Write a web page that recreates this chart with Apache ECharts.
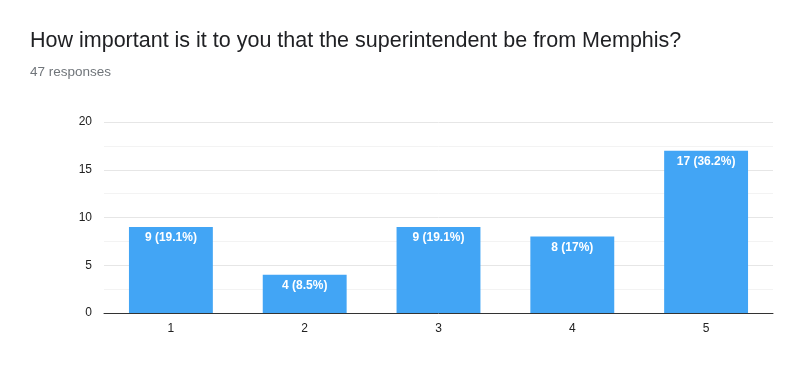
<!DOCTYPE html>
<html><head><meta charset="utf-8">
<script src="https://cdn.jsdelivr.net/npm/echarts@6/dist/echarts.min.js"></script>
<style>html,body{margin:0;padding:0;background:#fff}#c{width:800px;height:373px}</style>
</head><body><div id="c"></div>
<script>
const categories = ['1','2','3','4','5'];
const counts = [9, 4, 9, 8, 17];
const labels = ['9 (19.1%)','4 (8.5%)','9 (19.1%)','8 (17%)','17 (36.2%)'];
const yTicks = [0, 5, 10, 15, 20];

const chart = echarts.init(document.getElementById('c'), null, {renderer:'canvas'});
chart.setOption({
  animation: false,
  title: [
    {text: 'How important is it to you that the superintendent be from Memphis?', left: 25, top: 25,
     textStyle: {fontFamily: '"Liberation Sans", Arial, sans-serif', fontSize: 21.5, fontWeight: 'normal', color: '#202124'}},
    {text: '47 responses', left: 25, top: 60,
     textStyle: {fontFamily: '"Liberation Sans", Arial, sans-serif', fontSize: 13.5, fontWeight: 'normal', color: '#70757a'}}
  ],
  grid: {left: 104, right: 27, top: 122, bottom: 60, containLabel: false},
  xAxis: {
    type: 'category', data: categories,
    axisLine: {lineStyle: {color: '#333', width: 1}},
    axisTick: {show: false},
    axisLabel: {color: '#222', fontSize: 12, fontFamily: 'Arial, sans-serif', margin: 10}
  },
  yAxis: {
    type: 'value', min: yTicks[0], max: yTicks[yTicks.length-1], interval: 5,
    axisLine: {show: false}, axisTick: {show: false},
    axisLabel: {color: '#222', fontSize: 12, fontFamily: 'Arial, sans-serif', margin: 12},
    splitLine: {lineStyle: {color: '#e6e6e6'}},
    minorTick: {show: false, splitNumber: 2},
    minorSplitLine: {show: true, lineStyle: {color: '#f3f3f3'}}
  },
  series: [{
    type: 'bar', data: counts, barWidth: '62.7%',
    itemStyle: {color: '#42a5f5'},
    label: {show: true, position: 'insideTop', distance: 5, color: '#fff', fontWeight: 'bold', fontSize: 12,
      fontFamily: 'Arial, sans-serif',
      formatter: p => labels[p.dataIndex]}
  }]
});
</script></body></html>
